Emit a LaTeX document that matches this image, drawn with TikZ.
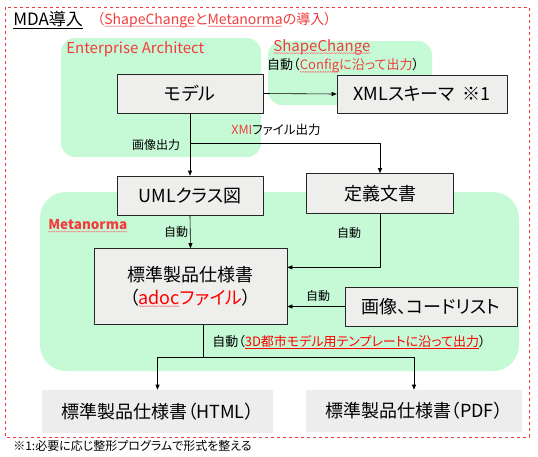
\documentclass[tikz,border=0pt]{standalone}
\usepackage{fontspec}
\setmainfont{Noto Sans CJK JP}[RawFeature=+palt]
\usetikzlibrary{arrows.meta,calc,decorations.pathmorphing}
\definecolor{mdared}{RGB}{240,60,60}
\definecolor{wavered}{RGB}{250,110,110}
\definecolor{mint}{RGB}{198,250,214}
\definecolor{boxgray}{RGB}{238,239,237}
\definecolor{outgray}{RGB}{237,237,237}
\newcommand{\spellwave}[1]{\tikz[baseline=(w.base)]{\node[rectangle,draw=none,fill=none,minimum width=0pt,minimum height=0pt,text width=,align=left,inner sep=0pt,outer sep=0pt,anchor=base] (w) {#1};
  \draw[wavered,line width=0.4pt,decorate,decoration={snake,amplitude=0.6pt,segment length=2.5pt}] ([yshift=-2pt]w.base west)--([yshift=-2pt]w.base east);}}
\tikzset{
  area/.style={fill=mint,rounded corners=14pt},
  flowbox/.style={draw=black!85,fill=boxgray,line width=0.6pt,font=\fontsize{18}{21}\selectfont,inner sep=0pt,align=center},
  outbox/.style={fill=outgray,font=\fontsize{18}{21}\selectfont,inner sep=0pt},
  note/.style={font=\fontsize{12}{14}\selectfont,inner sep=1pt},
  longnote/.style={note,font=\fontsize{13}{15}\selectfont,anchor=west},
  tool/.style={text=mdared,font=\fontsize{15}{17}\selectfont,inner sep=0pt,anchor=west}
}
\begin{document}
\begin{tikzpicture}[x=1pt,y=-1pt,>={Triangle[length=5pt,width=4pt]},line join=round,line width=0.6pt]
\useasboundingbox (0,0) rectangle (538,456);
% frame and tool areas
\draw[mdared,dashed,line width=0.7pt] (5,7) rectangle (529,437);
\fill[area] (61,38) rectangle (261,157);
\fill[area] (268,41) rectangle (432,105);
\fill[area,rounded corners=26pt] (40,192) rectangle (519,371);
\node[anchor=west,inner sep=0pt,font=\fontsize{17}{19}\selectfont] (title) at (13,20) {\underline{MDA導入}};
\node[tool,font=\fontsize{14}{16}\selectfont] (titlenote) at (97,20) {（\spellwave{ShapeChange}と\spellwave{Metanorma}の導入）};
\node[tool] (ea) at (66,49) {Enterprise Architect};
\node[tool] (sc) at (273,47) {\spellwave{ShapeChange}};
\node[tool,font=\bfseries\fontsize{13.5}{15}\selectfont] (mn) at (48,226) {\spellwave{Metanorma}};
% boxes
\node[flowbox,minimum width=146pt,minimum height=39pt] (model) at (190,93.5) {モデル};
\node[flowbox,minimum width=170pt,minimum height=38pt] (xml) at (422,94) {XMLスキーマ\ \ ※1};
\node[flowbox,minimum width=146pt,minimum height=39pt] (uml) at (190,195.5) {UMLクラス図};
\node[flowbox,minimum width=147pt,minimum height=40pt] (teigi) at (380,193.5) {定義文書};
\node[flowbox,minimum width=193pt,minimum height=76pt] (hyojun) at (190.5,286.5) {標準製品仕様書\\[2pt]（{\color{red}\spellwave{adoc}ファイル}）};
\node[flowbox,minimum width=172pt,minimum height=39pt] (gazo) at (431,306.5) {画像、コードリスト};
\node[outbox,minimum width=231pt,minimum height=43pt] (html) at (157.5,411.5) {標準製品仕様書（HTML）};
\node[outbox,minimum width=216pt,minimum height=42pt] (pdf) at (414,411) {標準製品仕様書（PDF）};
% connectors
\coordinate (xmi) at (190,143);
\coordinate (inT) at ($(hyojun.north east)!0.25!(hyojun.south east)$);
\coordinate (docout) at ($(hyojun.south)+(13,0)$);
\coordinate (split) at ($(docout)+(0,32.5)$);
\draw[->] (model.east)--(xml.west);
\draw[->] (model.south)--(uml.north);
\draw[->] (xmi)-|(teigi.north);
\draw[->] (uml.south)--(hyojun.north);
\draw[->] (teigi.south)|-(inT);
\draw[->] (gazo.west)--(gazo.west-|hyojun.east);
\draw (docout)--(split);
\draw[->] (split)-|(html.north);
\draw[->] (split)-|(pdf.north);
% labels
\node[longnote] (l1) at (266,66) {自動（{\color{mdared}\spellwave{Config}に沿って出力}）};
\node[note,font=\fontsize{12.5}{14}\selectfont] (l2) at (276,130) {{\color{mdared}XMI}ファイル出力};
\node[note] (l3) at (156,145) {画像出力};
\node[note] (l4) at (176,232) {自動};
\node[note] (l5) at (349,233) {自動};
\node[note] (l6) at (318,296) {自動};
\node[longnote] (l7) at (211,342) {自動（{\color{red}\underline{3D都市モデル用テンプレートに沿って出力}}）};
\node[note,anchor=west,font=\fontsize{12}{14}\selectfont] (foot) at (12,446) {※1:必要に応じ整形プログラムで形式を整える};
\end{tikzpicture}
\end{document}
